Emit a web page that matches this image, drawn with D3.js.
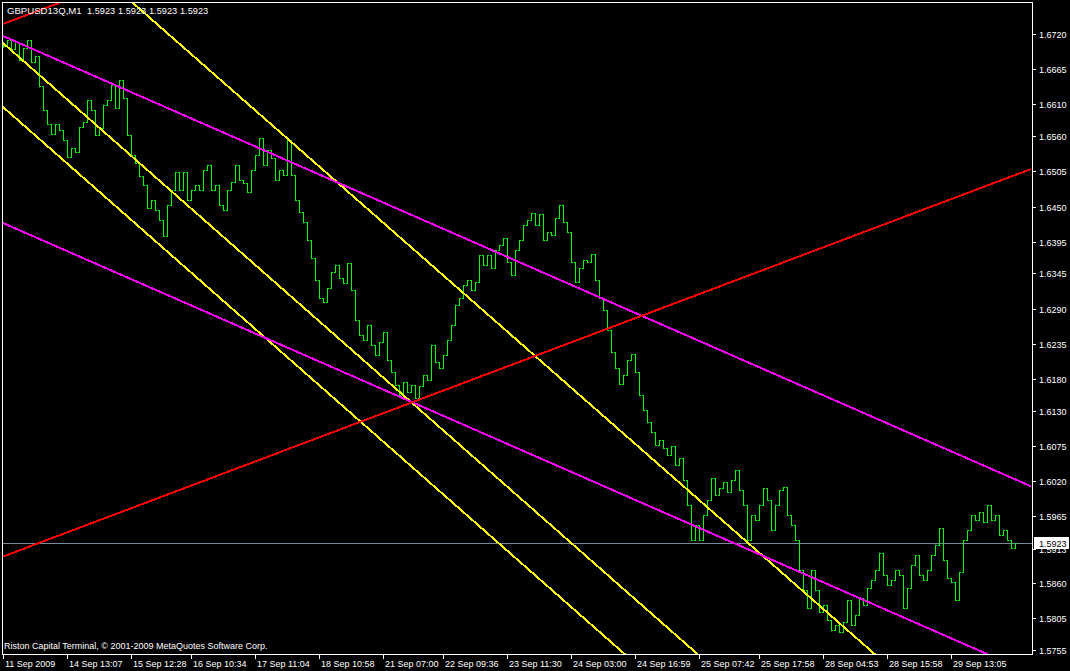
<!DOCTYPE html>
<html><head><meta charset="utf-8">
<script src="https://cdn.jsdelivr.net/npm/d3@7"></script>
<style>html,body{margin:0;padding:0;background:#000;overflow:hidden}</style>
</head><body>
<svg id="chart" width="1070" height="671"></svg>
<script>
// ---------- data ----------
const symbolName = "GBPUSD13Q,M1";
const titleQuotes = [1.5923, 1.5923, 1.5923, 1.5923];
const copyright = "Riston Capital Terminal, \u00A9 2001-2009 MetaQuotes Software Corp.";

const closes = [
1.6702,1.6711,1.6697,1.6708,1.6680,1.6699,1.6711,1.6677,1.6686,1.6639,
1.6601,1.6579,1.6564,1.6579,1.6570,1.6554,1.6528,1.6542,1.6535,1.6575,
1.6582,1.6617,1.6601,1.6562,1.6573,1.6609,1.6617,1.6641,1.6605,1.6648,
1.6620,1.6562,1.6531,1.6518,1.6498,1.6484,1.6448,1.6460,1.6445,1.6429,
1.6404,1.6452,1.6476,1.6504,1.6476,1.6504,1.6460,1.6476,1.6484,1.6476,
1.6507,1.6515,1.6476,1.6484,1.6452,1.6445,1.6476,1.6488,1.6515,1.6492,
1.6487,1.6473,1.6507,1.6531,1.6557,1.6515,1.6539,1.6526,1.6492,1.6507,
1.6499,1.6554,1.6499,1.6460,1.6441,1.6426,1.6398,1.6369,1.6335,1.6307,
1.6300,1.6322,1.6347,1.6358,1.6338,1.6330,1.6361,1.6319,1.6272,1.6249,
1.6241,1.6264,1.6233,1.6217,1.6238,1.6253,1.6209,1.6191,1.6170,1.6154,
1.6175,1.6159,1.6170,1.6150,1.6169,1.6186,1.6178,1.6233,1.6206,1.6197,
1.6217,1.6241,1.6264,1.6296,1.6307,1.6327,1.6335,1.6319,1.6332,1.6374,
1.6358,1.6374,1.6354,1.6382,1.6390,1.6401,1.6363,1.6343,1.6382,1.6398,
1.6421,1.6429,1.6440,1.6421,1.6438,1.6398,1.6410,1.6405,1.6432,1.6452,
1.6426,1.6410,1.6363,1.6332,1.6354,1.6366,1.6363,1.6376,1.6335,1.6307,
1.6288,1.6256,1.6222,1.6197,1.6172,1.6186,1.6209,1.6219,1.6191,1.6154,
1.6131,1.6112,1.6096,1.6076,1.6084,1.6071,1.6060,1.6074,1.6045,1.6056,
1.6021,1.5982,1.5927,1.5951,1.5927,1.5966,1.5990,1.6024,1.5998,1.6009,
1.6018,1.6002,1.6021,1.6037,1.6005,1.5982,1.5927,1.5966,1.5958,1.5982,
1.6009,1.5990,1.5943,1.5982,1.6005,1.6010,1.5966,1.5951,1.5927,1.5880,
1.5849,1.5821,1.5880,1.5849,1.5814,1.5825,1.5802,1.5786,1.5794,1.5783,
1.5799,1.5833,1.5794,1.5810,1.5836,1.5825,1.5852,1.5864,1.5880,1.5907,
1.5872,1.5857,1.5864,1.5880,1.5872,1.5821,1.5852,1.5888,1.5904,1.5872,
1.5864,1.5880,1.5904,1.5919,1.5946,1.5896,1.5868,1.5861,1.5833,1.5877,
1.5927,1.5943,1.5966,1.5958,1.5971,1.5955,1.5982,1.5958,1.5966,1.5935,
1.5943,1.5927,1.5915,1.5923
];

const timeTickIndex = [0,16,32,47,63,79,95,110,126,142,158,174,189,205,221,237];
const timeTickLabels = ["11 Sep 2009","14 Sep 13:07","15 Sep 12:28","16 Sep 10:34","17 Sep 11:04",
  "18 Sep 10:58","21 Sep 07:00","22 Sep 09:36","23 Sep 11:30","24 Sep 03:00","24 Sep 16:59",
  "25 Sep 07:42","25 Sep 17:58","28 Sep 04:53","28 Sep 15:58","29 Sep 13:05"];

const priceTicks = [1.6720,1.6665,1.6610,1.6560,1.6505,1.6450,1.6395,1.6345,1.6290,1.6235,
  1.6180,1.6130,1.6075,1.6020,1.5965,1.5913,1.5860,1.5805,1.5755];

const lastPrice = 1.5923;

// trend lines: [startIndex, startPrice, endIndex, endPrice]
const redLines = [
  [0, 1.67362, 257, 1.73439],
  [0, 1.59011, 257, 1.65088]
];
const magentaLines = [
  [0, 1.67174, 257, 1.60113],
  [0, 1.64241, 257, 1.57181]
];
const yellowLines = [
  [0, 1.6948, 257, 1.5533],
  [0, 1.67064, 257, 1.5288],
  [0, 1.6606, 257, 1.51876]
];

// ---------- layout ----------
const W = 1070, H = 671;
const plot = {left: 2, top: 2, right: 1032, bottom: 654};
const font = "'Liberation Sans', Arial, sans-serif";

const x = d3.scaleLinear().domain([0, 257]).range([3, 1031]);
const y = d3.scaleLinear().domain([1.57483, 1.67707]).range([plot.bottom, plot.top]);

const svg = d3.select("#chart");
svg.append("rect").attr("width", W).attr("height", H).attr("fill", "#000");

svg.append("defs").append("clipPath").attr("id", "clip")
  .append("rect").attr("x", plot.left).attr("y", plot.top)
  .attr("width", plot.right - plot.left).attr("height", plot.bottom - plot.top);

const g = svg.append("g").attr("clip-path", "url(#clip)");

// bid line
g.append("line")
  .attr("x1", plot.left).attr("x2", plot.right)
  .attr("y1", Math.round(y(lastPrice)) + 0.5).attr("y2", Math.round(y(lastPrice)) + 0.5)
  .attr("stroke", "#778899").attr("stroke-width", 1).attr("shape-rendering", "crispEdges");

// price bars (open = previous close)
const bars = g.append("g").attr("stroke", "#00ff00").attr("stroke-width", 1)
  .attr("shape-rendering", "crispEdges");
closes.forEach((c, i) => {
  const o = i > 0 ? closes[i - 1] : c;
  const xi = Math.round(x(i)) + 0.5;
  let y1 = Math.round(y(Math.max(o, c))), y2 = Math.round(y(Math.min(o, c)));
  if (y2 - y1 < 2) { y1 -= 1; y2 += 1; }
  bars.append("line").attr("x1", xi).attr("x2", xi).attr("y1", y1).attr("y2", y2 + 1);
  const yo = Math.round(y(o)) + 0.5, yc = Math.round(y(c)) + 0.5;
  bars.append("line").attr("x1", xi - 1.5).attr("x2", xi).attr("y1", yo).attr("y2", yo);
  bars.append("line").attr("x1", xi).attr("x2", xi + 1.5).attr("y1", yc).attr("y2", yc);
});

// trend lines
function drawLines(arr, color) {
  g.selectAll(null).data(arr).enter().append("line")
    .attr("x1", d => x(d[0])).attr("y1", d => y(d[1]))
    .attr("x2", d => x(d[2])).attr("y2", d => y(d[3]))
    .attr("stroke", color).attr("stroke-width", 2)
    .attr("shape-rendering", "crispEdges");
}
drawLines(yellowLines, "#ffff00");
drawLines(magentaLines, "#ff00ff");
drawLines(redLines, "#ff0000");

// frame
svg.append("rect").attr("x", plot.left + 0.5).attr("y", plot.top + 0.5)
  .attr("width", plot.right - plot.left).attr("height", plot.bottom - plot.top)
  .attr("fill", "none").attr("stroke", "#fff").attr("stroke-width", 1)
  .attr("shape-rendering", "crispEdges");

// price axis
const pa = svg.append("g");
priceTicks.forEach(p => {
  const yy = Math.round(y(p)) + 0.5;
  pa.append("line").attr("x1", plot.right + 1).attr("x2", plot.right + 4)
    .attr("y1", yy).attr("y2", yy).attr("stroke", "#fff").attr("shape-rendering", "crispEdges");
  pa.append("text").attr("x", plot.right + 7).attr("y", yy + 3.5)
    .attr("fill", "#fff").attr("font-family", font).attr("font-size", 9)
    .text(p.toFixed(4));
});

// bid label
const by = Math.round(y(lastPrice));
svg.append("rect").attr("x", plot.right + 2).attr("y", by - 6).attr("width", 35).attr("height", 12)
  .attr("fill", "#fff");
svg.append("text").attr("x", plot.right + 7).attr("y", by + 3.5)
  .attr("fill", "#000").attr("font-family", font).attr("font-size", 9).text(lastPrice.toFixed(4));

// time axis
const ta = svg.append("g");
timeTickIndex.forEach((idx, k) => {
  const xx = Math.round(x(idx)) + 0.5;
  ta.append("line").attr("x1", xx).attr("x2", xx).attr("y1", plot.bottom + 1).attr("y2", plot.bottom + 5)
    .attr("stroke", "#fff").attr("shape-rendering", "crispEdges");
  ta.append("text").attr("x", xx + 1.5).attr("y", 667)
    .attr("fill", "#fff").attr("font-family", font).attr("font-size", 9)
    .text(timeTickLabels[k]);
});

// title & copyright
svg.append("text").attr("x", 7).attr("y", 14).attr("fill", "#fff")
  .attr("font-family", font).attr("font-size", 9.6).text(symbolName);
titleQuotes.forEach((q, k) => {
  svg.append("text").attr("x", 87 + 31 * k).attr("y", 14).attr("fill", "#fff")
    .attr("font-family", font).attr("font-size", 9.2).text(q.toFixed(4));
});
svg.append("text").attr("x", 4).attr("y", 649).attr("fill", "#fff")
  .attr("font-family", font).attr("font-size", 9).text(copyright);
</script>
</body></html>
